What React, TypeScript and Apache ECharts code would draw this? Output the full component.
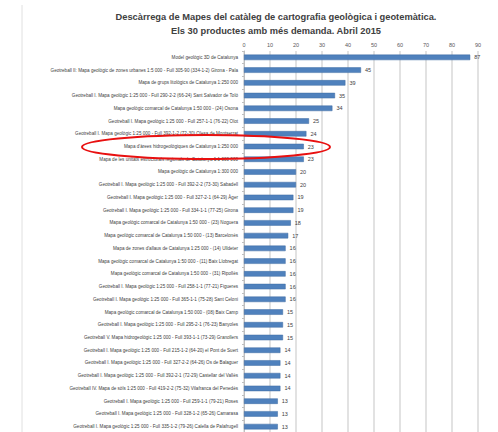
import React, { useEffect, useRef } from "react";
import * as echarts from "echarts";

const titleLines = [
  "Descàrrega de Mapes del catàleg de cartografia geològica i geotemàtica.",
  "Els 30 productes amb més demanda. Abril 2015",
];

const categories = [
  "Model geològic 3D de Catalunya",
  "Geotreball II: Mapa geològic de zones urbanes 1:5 000 - Full 305-90 (334-1-2) Girona - Pala",
  "Mapa de grups litològics de Catalunya 1:250 000",
  "Geotreball I. Mapa geològic 1:25 000 - Full 290-2-2 (66-24) Sant Salvador de Toló",
  "Mapa geològic comarcal de Catalunya 1:50 000 - (24) Osona",
  "Geotreball I. Mapa geològic 1:25 000 - Full 257-1-1 (76-22) Olot",
  "Geotreball I. Mapa geològic 1:25 000 - Full 392-1-2 (72-30) Olesa de Montserrat",
  "Mapa d'àrees hidrogeològiques de Catalunya 1:250 000",
  "Mapa de les unitats estructurals regionals de Catalunya 1:1 000 000",
  "Mapa geològic de Catalunya 1:300 000",
  "Geotreball I. Mapa geològic 1:25 000 - Full 392-2-2 (73-30) Sabadell",
  "Geotreball I. Mapa geològic 1:25 000 - Full 327-2-1 (64-29) Àger",
  "Geotreball I. Mapa geològic 1:25 000 - Full 334-1-1 (77-25) Girona",
  "Mapa geològic comarcal de Catalunya 1:50 000 - (23) Noguera",
  "Mapa geològic comarcal de Catalunya 1:50 000 - (13) Barcelonès",
  "Mapa de zones d'allaus de Catalunya 1:25 000 - (14) Ulldeter",
  "Mapa geològic comarcal de Catalunya 1:50 000 - (11) Baix Llobregat",
  "Mapa geològic comarcal de Catalunya 1:50 000 - (31) Ripollès",
  "Geotreball I. Mapa geològic 1:25 000 - Full 258-1-1 (77-21) Figueres",
  "Geotreball I. Mapa geològic 1:25 000 - Full 365-1-1 (75-28) Sant Celoni",
  "Mapa geològic comarcal de Catalunya 1:50 000 - (08) Baix Camp",
  "Geotreball I. Mapa geològic 1:25 000 - Full 295-2-1 (76-23) Banyoles",
  "Geotreball V. Mapa hidrogeològic 1:25 000 - Full 393-1-1 (73-29) Granollers",
  "Geotreball I. Mapa geològic 1:25 000 - Full 215-1-2 (64-20) el Pont de Suert",
  "Geotreball I. Mapa geològic 1:25 000 - Full 327-2-2 (64-26) Os de Balaguer",
  "Geotreball I. Mapa geològic 1:25 000 - Full 392-2-1 (72-29) Castellar del Vallès",
  "Geotreball IV. Mapa de sòls 1:25 000 - Full 419-2-2 (75-32) Vilafranca del Penedès",
  "Geotreball I. Mapa geològic 1:25 000 - Full 259-1-1 (79-21) Roses",
  "Geotreball I. Mapa geològic 1:25 000 - Full 328-1-2 (65-26) Camarasa",
  "Geotreball I. Mapa geològic 1:25 000 - Full 335-1-2 (79-26) Calella de Palafrugell",
];

const downloads = [
  87, 45, 39, 35, 34, 25, 24, 23, 23, 20, 20, 19, 19, 18, 17, 16, 16, 16, 16,
  16, 15, 15, 15, 14, 14, 14, 14, 13, 13, 13,
];

const xTicks = [0, 10, 20, 30, 40, 50, 60, 70, 80, 90, 100];

export default function App() {
  const ref = useRef<HTMLDivElement>(null);
  useEffect(() => {
    if (!ref.current) return;
    const chart = echarts.init(ref.current, null, { renderer: "svg" });
    chart.setOption({
      animation: false,
      backgroundColor: "#ffffff",
      title: {
        text: titleLines.join("\n"),
        left: 271,
        top: 5,
        textAlign: "center",
        textStyle: {
          fontFamily: "Liberation Sans",
          fontSize: 9.3,
          fontWeight: "bold",
          color: "#404040",
          lineHeight: 14,
        },
      },
      grid: {
        left: 244,
        width: 260,
        top: 51,
        height: 382,
        containLabel: false,
        outerBoundsMode: "none",
      },
      xAxis: {
        type: "value",
        position: "top",
        min: xTicks[0],
        max: xTicks[xTicks.length - 1],
        interval: 10,
        axisLine: { show: false },
        axisTick: { show: false },
        axisLabel: {
          fontSize: 5.5,
          color: "#595959",
          fontFamily: "Liberation Sans",
          margin: 3,
          showMaxLabel: false,
        },
        splitLine: { lineStyle: { color: "#d9d9d9", width: 1.5 } },
      },
      yAxis: {
        type: "category",
        inverse: true,
        data: categories,
        axisLine: { show: true, lineStyle: { color: "#bfbfbf", width: 1 } },
        axisTick: { show: true, length: 2, lineStyle: { color: "#bfbfbf" } },
        axisLabel: {
          fontSize: 4.6,
          color: "#404040",
          fontFamily: "Liberation Sans",
          margin: 6,
        },
      },
      series: [
        {
          type: "bar",
          data: downloads,
          barWidth: 5.5,
          itemStyle: { color: "#4f81bd", borderColor: "#3c6aa3", borderWidth: 0.5 },
          label: {
            show: true,
            position: "right",
            distance: 4,
            fontSize: 5.5,
            color: "#404040",
            fontFamily: "Liberation Sans",
          },
        },
      ],
      graphic: [
        {
          type: "line",
          shape: { x1: 22, y1: 5, x2: 22, y2: 432 },
          style: { stroke: "#e0e0e0", lineWidth: 1 },
          silent: true,
        },
        {
          type: "ellipse",
          shape: { cx: 206, cy: 147, rx: 124, ry: 12 },
          style: { fill: "none", stroke: "#e81010", lineWidth: 2 },
          silent: true,
          z: 100,
        },
      ],
    });
    return () => chart.dispose();
  }, []);
  return (
    <div
      ref={ref}
      style={{ position: "absolute", left: 0, top: 0, width: 498, height: 432 }}
    />
  );
}
